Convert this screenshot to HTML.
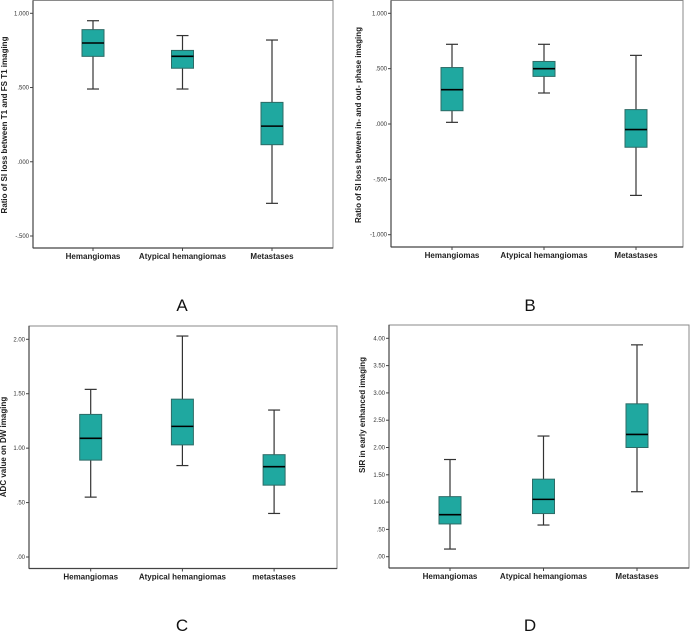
<!DOCTYPE html>
<html><head><meta charset="utf-8"><style>
html,body{margin:0;padding:0;background:#fff;}
svg{display:block;font-family:"Liberation Sans",sans-serif;}
</style></head><body>
<svg id="chart" width="700" height="637" viewBox="0 0 700 637" xmlns="http://www.w3.org/2000/svg"></svg>
<script>
// Panel A
const catsA = ["Hemangiomas","Atypical hemangiomas","Metastases"];
const hiA  = [0.95, 0.85, 0.82];
const q3A  = [0.89, 0.75, 0.40];
const medA = [0.80, 0.71, 0.24];
const q1A  = [0.71, 0.63, 0.115];
const loA  = [0.49, 0.49, -0.28];
const ticksA = [1.0, 0.5, 0.0, -0.5];
const tickLabA = ["1.000", ".500", ".000", "-.500"];
// Panel B
const catsB = ["Hemangiomas","Atypical hemangiomas","Metastases"];
const hiB  = [0.72, 0.72, 0.62];
const q3B  = [0.51, 0.565, 0.13];
const medB = [0.31, 0.50, -0.05];
const q1B  = [0.12, 0.43, -0.21];
const loB  = [0.015, 0.28, -0.645];
const ticksB = [1.0, 0.5, 0.0, -0.5, -1.0];
const tickLabB = ["1.000", ".500", ".000", "-.500", "-1.000"];
// Panel C
const catsC = ["Hemangiomas","Atypical hemangiomas","metastases"];
const hiC  = [1.54, 2.03, 1.35];
const q3C  = [1.31, 1.45, 0.94];
const medC = [1.09, 1.20, 0.83];
const q1C  = [0.89, 1.03, 0.66];
const loC  = [0.55, 0.84, 0.40];
const ticksC = [2.0, 1.5, 1.0, 0.5, 0.0];
const tickLabC = ["2.00", "1.50", "1.00", ".50", ".00"];
// Panel D
const catsD = ["Hemangiomas","Atypical hemangiomas","Metastases"];
const hiD  = [1.78, 2.21, 3.88];
const q3D  = [1.10, 1.42, 2.80];
const medD = [0.77, 1.05, 2.24];
const q1D  = [0.60, 0.79, 2.00];
const loD  = [0.14, 0.58, 1.19];
const ticksD = [4.0, 3.5, 3.0, 2.5, 2.0, 1.5, 1.0, 0.5, 0.0];
const tickLabD = ["4.00", "3.50", "3.00", "2.50", "2.00", "1.50", "1.00", ".50", ".00"];

const NS = "http://www.w3.org/2000/svg";
const svg = document.getElementById("chart");
function mk(tag, attrs, parent, text){
  const e = document.createElementNS(NS, tag);
  for (const k in attrs) e.setAttribute(k, attrs[k]);
  if (text !== undefined) e.textContent = text;
  (parent || svg).appendChild(e);
  return e;
}
function panel(id, cfg){
  const g = mk("g", {});
  
  
  const yScale = v => cfg.yTop + (cfg.vTop - v) / (cfg.vTop - cfg.vBot) * (cfg.yBot - cfg.yTop);
  const xScale = i => cfg.x0 + i * cfg.dx;
  const frame = mk("rect", {x:cfg.left, y:cfg.top, width:cfg.right-cfg.left, height:cfg.bottom-cfg.top, fill:"#fff", stroke:"#8a8a8a", "stroke-width":1}, g);
  
  
  mk("line", {x1:cfg.left, y1:cfg.top, x2:cfg.left, y2:cfg.bottom, stroke:"#444", "stroke-width":1.2}, g);
  mk("line", {x1:cfg.left, y1:cfg.bottom, x2:cfg.right, y2:cfg.bottom, stroke:"#444", "stroke-width":1.2}, g);
  cfg.ticks.forEach((t, i) => {
    const y = yScale(t);
    mk("line", {x1:cfg.left-3, y1:y, x2:cfg.left, y2:y, stroke:"#444", "stroke-width":1}, g);
    const tl = mk("text", {x:cfg.left-4, y:y+2, "font-size":6, "text-anchor":"end", fill:"#333"}, g, cfg.tickLab[i]);
    
    
  });
  const at = mk("text", {x:cfg.titleX, y:cfg.titleY, "font-size":8, "font-weight":"bold", "text-anchor":"middle", fill:"#222", transform:`rotate(-90 ${cfg.titleX} ${cfg.titleY})`}, g, cfg.title);
  
  
  const bw = 22;
  cfg.cats.forEach((c, i) => {
    const x = xScale(i);
    mk("line", {x1:x, y1:cfg.bottom, x2:x, y2:cfg.bottom+3, stroke:"#444", "stroke-width":1}, g);
    const cl = mk("text", {x:x, y:cfg.bottom+11, "font-size":8, "font-weight":"bold", "text-anchor":"middle", fill:"#222"}, g, c);
    
    
    const bg = mk("g", {}, g);
    
    
    const yh = yScale(cfg.hi[i]), y3 = yScale(cfg.q3[i]), ym = yScale(cfg.med[i]), y1 = yScale(cfg.q1[i]), yl = yScale(cfg.lo[i]);
    mk("line", {x1:x, y1:yh, x2:x, y2:y3, stroke:"#333", "stroke-width":1.2}, bg);
    mk("line", {x1:x, y1:y1, x2:x, y2:yl, stroke:"#333", "stroke-width":1.2}, bg);
    mk("line", {x1:x-6, y1:yh, x2:x+6, y2:yh, stroke:"#333", "stroke-width":1.2}, bg);
    mk("line", {x1:x-6, y1:yl, x2:x+6, y2:yl, stroke:"#333", "stroke-width":1.2}, bg);
    mk("rect", {x:x-bw/2, y:y3, width:bw, height:y1-y3, fill:"#1fa8a0", stroke:"#2d6b66", "stroke-width":1}, bg);
    mk("line", {x1:x-bw/2, y1:ym, x2:x+bw/2, y2:ym, stroke:"#000", "stroke-width":1.6}, bg);
  });
  const pl = mk("text", {x:cfg.letterX, y:cfg.letterY, "font-size":17, "text-anchor":"middle", fill:"#111"}, g, id);
  
  
}
panel("A", {left:33, right:333, top:0.5, bottom:248, yTop:13.3, vTop:1.0, yBot:236, vBot:-0.5, x0:93, dx:89.5,
  cats:catsA, hi:hiA, q3:q3A, med:medA, q1:q1A, lo:loA, ticks:ticksA, tickLab:tickLabA,
  title:"Ratio of SI loss between T1 and FS T1 imaging", titleX:7, titleY:125, letterX:182, letterY:311});
panel("B", {left:391, right:683, top:0.5, bottom:247, yTop:13.3, vTop:1.0, yBot:234.7, vBot:-1.0, x0:452, dx:92,
  cats:catsB, hi:hiB, q3:q3B, med:medB, q1:q1B, lo:loB, ticks:ticksB, tickLab:tickLabB,
  title:"Ratio of SI loss between in- and out- phase imaging", titleX:361, titleY:125, letterX:530, letterY:311});
panel("C", {left:29, right:337, top:326, bottom:568.5, yTop:339.3, vTop:2.0, yBot:557, vBot:0.0, x0:90.7, dx:91.7,
  cats:catsC, hi:hiC, q3:q3C, med:medC, q1:q1C, lo:loC, ticks:ticksC, tickLab:tickLabC,
  title:"ADC value on DW imaging", titleX:6, titleY:447, letterX:182, letterY:631});
panel("D", {left:389, right:689, top:325, bottom:568, yTop:338.3, vTop:4.0, yBot:556.7, vBot:0.0, x0:450, dx:93.5,
  cats:catsD, hi:hiD, q3:q3D, med:medD, q1:q1D, lo:loD, ticks:ticksD, tickLab:tickLabD,
  title:"SIR in early enhanced imaging", titleX:365, titleY:415, letterX:530, letterY:631});
</script>
</body></html>
